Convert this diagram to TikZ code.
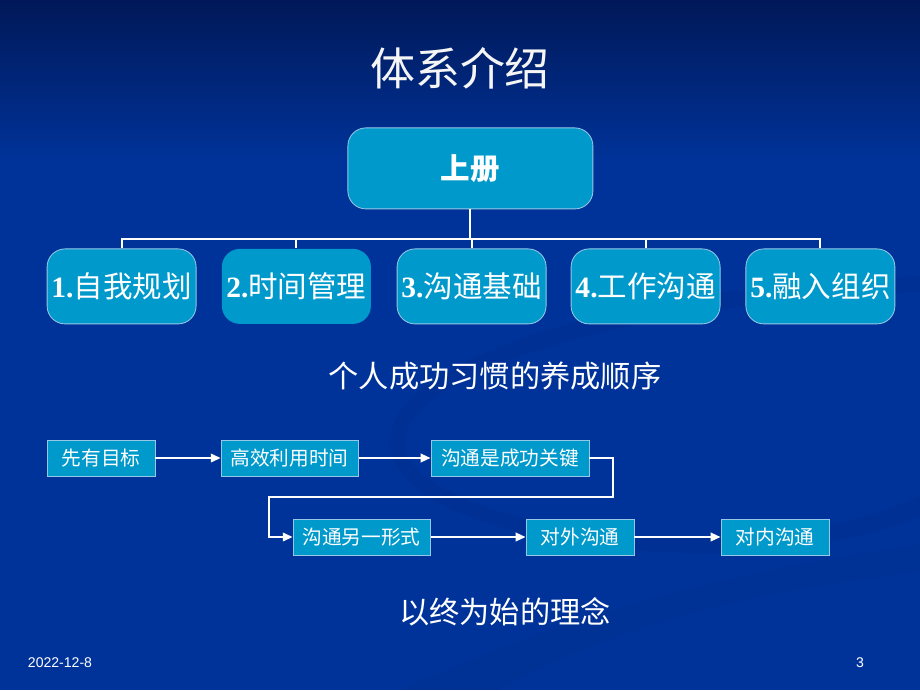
\documentclass[tikz,border=0pt]{standalone}
\usepackage{fontspec}
\setmainfont{Liberation Serif}
\setsansfont{Liberation Sans}
\newfontfamily\cjk{Noto Sans CJK SC}
\usetikzlibrary{arrows.meta}
\definecolor{bgtop}{RGB}{0,24,88}
\definecolor{bgblue}{RGB}{0,51,153}
\definecolor{boxblue}{RGB}{0,153,204}
\definecolor{edgeblue}{RGB}{150,200,230}

\begin{document}
\begin{tikzpicture}[
		bigbox/.style={draw=edgeblue,line width=0.6pt,fill=boxblue,rounded corners=0.45cm,text=white,minimum width=3.725cm,minimum height=1.875cm,inner sep=0pt},
		flowbox/.style={draw=edgeblue,line width=0.6pt,fill=boxblue,text=white,minimum height=0.9cm,inner sep=0pt,font=\cjk\fontsize{14}{14}\selectfont},
		bus/.style={draw=white,line width=1.5pt},
		flow/.style={draw=white,line width=1.5pt,-{Triangle[length=7pt,width=6pt]}}
	]
		% background
		\useasboundingbox (0,0) rectangle (23,-17.25);
		\fill[bgblue] (0,0) rectangle (23,-17.25);
		\shade[top color=bgtop,bottom color=bgblue] (0,0) rectangle (23,-4);
		\fill[bgtop,opacity=0.08] (23,-7.3) .. controls (15,-7.6) and (8.5,-9.8) .. (10.5,-11.8) .. controls (12.5,-13.5) and (19,-14.2) .. (23,-12.4) -- (23,-12.9) .. controls (19,-14.6) and (11.5,-13.8) .. (10,-11.8) .. controls (8.3,-9.4) and (15,-7.1) .. (23,-6.9) -- cycle;
		\fill[bgtop,opacity=0.07] (10,-17.25) .. controls (15,-15) and (19,-14.2) .. (23,-13.6) -- (23,-14.3) .. controls (18.5,-14.8) and (15,-15.8) .. (12.5,-17.25) -- cycle;

		\node (title) at (11.5,-1.7) {\cjk\fontsize{32}{32}\selectfont\textcolor{white!92!gray}{体系介绍}};

		\node[bigbox,minimum width=6.125cm,minimum height=2.025cm] (top) at (11.76,-4.21) {\cjk\bfseries\fontsize{21}{21}\selectfont 上册};
		\node[bigbox] (b1) at (3.04,-7.16) {\fontsize{21}{21}\selectfont\bfseries 1.{\cjk\mdseries 自我规划}};
		\node[bigbox,draw=none] (b2) at (7.41,-7.16) {\fontsize{21}{21}\selectfont\bfseries 2.{\cjk\mdseries 时间管理}};
		\node[bigbox] (b3) at (11.79,-7.16) {\fontsize{21}{21}\selectfont\bfseries 3.{\cjk\mdseries 沟通基础}};
		\node[bigbox] (b4) at (16.14,-7.16) {\fontsize{21}{21}\selectfont\bfseries 4.{\cjk\mdseries 工作沟通}};
		\node[bigbox] (b5) at (20.51,-7.16) {\fontsize{21}{21}\selectfont\bfseries 5.{\cjk\mdseries 融入组织}};

		\coordinate (hub) at (11.76,-5.975);
		\draw[bus] (top.south) -- (hub);
		\foreach \b in {b1,b2,b3,b4,b5}
			\draw[bus] (hub) -| (\b.north);

		\node[text=white] (habit) at (12.375,-9.4) {\cjk\fontsize{21.5}{21.5}\selectfont 个人成功习惯的养成顺序};

		\node[flowbox,minimum width=2.7cm] (f1) at (2.525,-11.45) {先有目标};
		\node[flowbox,minimum width=3.425cm] (f2) at (7.24,-11.45) {高效利用时间};
		\node[flowbox,minimum width=3.95cm] (f3) at (12.75,-11.45) {沟通是成功关键};
		\node[flowbox,minimum width=3.425cm] (f4) at (9.04,-13.425) {沟通另一形式};
		\node[flowbox,minimum width=2.7cm] (f5) at (14.5,-13.425) {对外沟通};
		\node[flowbox,minimum width=2.7cm] (f6) at (19.375,-13.425) {对内沟通};

		\draw[flow] (f1) -- (f2);
		\draw[flow] (f2) -- (f3);
		\draw[flow] (f3.east) -- ++(0.6,0) |- (6.725,-12.425) |- (f4.west);
		\draw[flow] (f4) -- (f5);
		\draw[flow] (f5) -- (f6);

		\node[text=white] (idea) at (12.625,-15.3) {\cjk\fontsize{21.5}{21.5}\selectfont 以终为始的理念};

		\node[text=white,font=\sffamily\fontsize{10}{10}\selectfont] (date) at (1.5,-16.575) {2022-12-8};
		\node[text=white,font=\sffamily\fontsize{10}{10}\selectfont] (page) at (21.5,-16.575) {3};
	\end{tikzpicture}
\end{document}
